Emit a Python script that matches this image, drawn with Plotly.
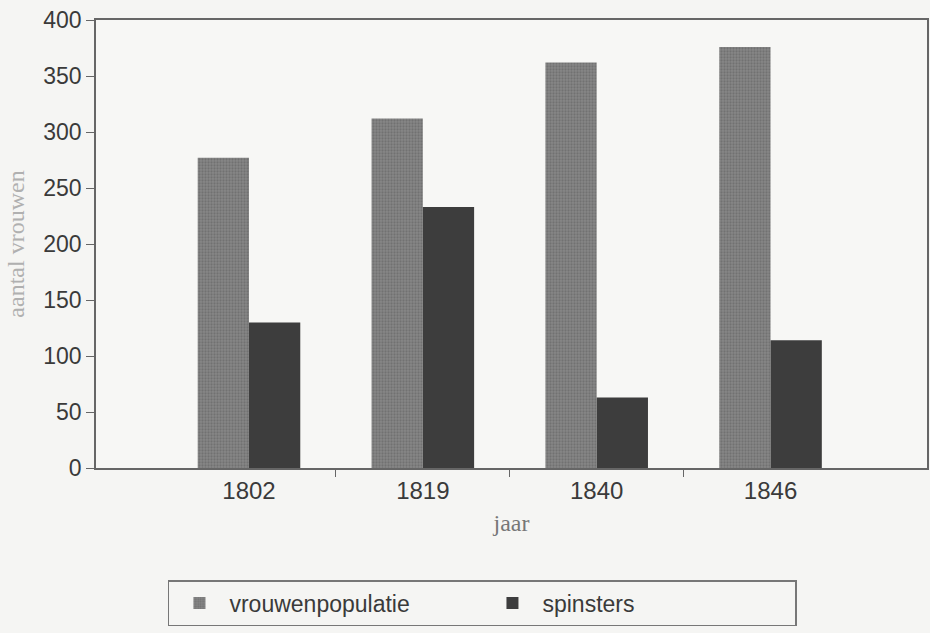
import plotly.graph_objects as go

jaren = ["1802", "1819", "1840", "1846"]
vrouwenpopulatie = [277, 312, 362, 376]
spinsters = [130, 233, 63, 114]
y_ticks = [0, 50, 100, 150, 200, 250, 300, 350, 400]

pos = list(range(len(jaren)))

fig = go.Figure()
fig.add_trace(go.Bar(
    x=pos, y=vrouwenpopulatie, name="vrouwenpopulatie",
    marker=dict(color="#808080", line=dict(width=0),
                pattern=dict(shape=".", fgcolor="#5c5c5c", bgcolor="#878787",
                             size=3, solidity=0.45)),
))
fig.add_trace(go.Bar(
    x=pos, y=spinsters, name="spinsters",
    marker=dict(color="#3d3d3d", line=dict(width=0)),
))

fig.update_layout(
    width=930, height=633,
    margin=dict(l=96, r=3, t=20, b=165, autoexpand=False),
    paper_bgcolor="#f5f5f3",
    plot_bgcolor="#f7f7f5",
    barmode="group", bargap=0.41, bargroupgap=0,
    font=dict(family="Liberation Sans, Arial, sans-serif", color="#3a3a3a", size=24),
    showlegend=True,
    legend=dict(
        orientation="h", xref="container", yref="container",
        x=0.1806, y=0.0837, xanchor="left", yanchor="top",
        bordercolor="#777", borderwidth=1.5, bgcolor="rgba(0,0,0,0)",
        font=dict(size=23, color="#3a3a3a"),
        entrywidth=248, itemwidth=50,
    ),
)

fig.update_xaxes(
    range=[-0.88, 3.9],
    tickmode="array", tickvals=pos, ticktext=jaren,
    ticks="", showgrid=False, zeroline=False,
    showline=True, linecolor="#666", linewidth=1.5, mirror=True,
    minor=dict(tickmode="array", tickvals=[p + 0.5 for p in pos[:-1]],
               ticks="outside", ticklen=7, tickcolor="#666", tickwidth=1.2,
               showgrid=False),
    title=dict(text="jaar", font=dict(family="Liberation Serif, serif", size=24, color="#777"),
               standoff=12),
)
fig.update_yaxes(
    range=[0, 400], tickmode="array", tickvals=y_ticks,
    ticks="outside", ticklen=8, tickcolor="#666", tickwidth=1.2,
    tickfont=dict(size=23),
    showgrid=False, zeroline=False,
    showline=True, linecolor="#666", linewidth=1.5, mirror=True,
    title=dict(text="aantal vrouwen", font=dict(family="Liberation Serif, serif", size=24, color="#b0b0b0"),
               standoff=12),
)

# drop the browser's default 8px body margin so the figure fills the window
fig.write_html("out.html", config={"displayModeBar": False},
               post_script="document.body.style.margin='0';")
